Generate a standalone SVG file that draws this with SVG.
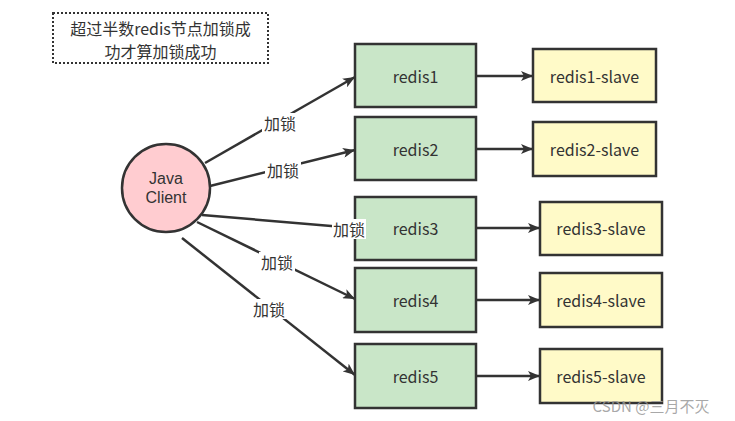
<svg xmlns="http://www.w3.org/2000/svg" width="735" height="421" viewBox="0 0 735 421">
<defs>
<marker id="ah" viewBox="0 0 12 10" refX="12" refY="5" markerWidth="12" markerHeight="10" markerUnits="userSpaceOnUse" orient="auto">
<path d="M0,0 L12,5 L0,10 L3,5 Z" fill="#333"/>
</marker>
<style>
.t{font-family:"Noto Sans CJK SC","Open Sans",sans-serif;font-size:16px;fill:#333;text-anchor:middle;dominant-baseline:central}
.j{font-family:"Liberation Sans",Arial,sans-serif;font-size:16px;fill:#333;text-anchor:middle;dominant-baseline:central}
.m{fill:#c9e6c8;stroke:#333;stroke-width:2.5}
.s{fill:#fffac8;stroke:#333;stroke-width:2.5}
.c{stroke:#333;stroke-width:2.5;fill:none}
.l{font-family:"Noto Sans CJK SC","Open Sans",sans-serif;font-size:16px;fill:#333;text-anchor:middle;dominant-baseline:central}
</style>
</defs>
<rect width="735" height="421" fill="#fff"/>
<g id="note">
<rect x="53" y="13" width="215" height="50" fill="#fff" stroke="#333" stroke-width="2" stroke-dasharray="2,2"/>
<text class="t" x="160.5" y="27.5">超过半数redis节点加锁成</text>
<text class="t" x="160.5" y="50.5">功才算加锁成功</text>
</g>
<g id="connectors">
<line class="c" x1="205" y1="163" x2="355" y2="77" marker-end="url(#ah)"/>
<line class="c" x1="210" y1="186" x2="355" y2="150" marker-end="url(#ah)"/>
<line class="c" x1="202" y1="215" x2="355" y2="228" marker-end="url(#ah)"/>
<line class="c" x1="197" y1="222" x2="355" y2="299" marker-end="url(#ah)"/>
<line class="c" x1="182" y1="238" x2="355" y2="375" marker-end="url(#ah)"/>
<line class="c" x1="476" y1="76" x2="533" y2="76" marker-end="url(#ah)"/>
<line class="c" x1="476" y1="149" x2="533" y2="149" marker-end="url(#ah)"/>
<line class="c" x1="476" y1="228" x2="540" y2="228" marker-end="url(#ah)"/>
<line class="c" x1="476" y1="300" x2="540" y2="300" marker-end="url(#ah)"/>
<line class="c" x1="476" y1="376" x2="540" y2="376" marker-end="url(#ah)"/>
</g>
<g id="client">
<circle cx="166" cy="188" r="44" fill="#ffccd0" stroke="#333" stroke-width="2.5"/>
<text class="j" x="166" y="178">Java</text>
<text class="j" x="166" y="197.5">Client</text>
</g>
<g id="redis1"><rect class="m" x="355" y="44" width="121" height="63"/><text class="t" x="415.5" y="76">redis1</text></g>
<g id="redis2"><rect class="m" x="355" y="117" width="121" height="63"/><text class="t" x="415.5" y="149">redis2</text></g>
<g id="redis3"><rect class="m" x="355" y="197" width="121" height="63"/><text class="t" x="415.5" y="228">redis3</text></g>
<g id="redis4"><rect class="m" x="355" y="268" width="121" height="64"/><text class="t" x="415.5" y="300">redis4</text></g>
<g id="redis5"><rect class="m" x="355" y="344" width="121" height="64"/><text class="t" x="415.5" y="376">redis5</text></g>
<g id="redis1-slave"><rect class="s" x="533" y="49" width="123" height="53"/><text class="t" x="594.5" y="76">redis1-slave</text></g>
<g id="redis2-slave"><rect class="s" x="533" y="122" width="123" height="54"/><text class="t" x="594.5" y="149">redis2-slave</text></g>
<g id="redis3-slave"><rect class="s" x="540" y="202" width="122" height="53"/><text class="t" x="601" y="228">redis3-slave</text></g>
<g id="redis4-slave"><rect class="s" x="540" y="273" width="122" height="54"/><text class="t" x="601" y="300">redis4-slave</text></g>
<g id="redis5-slave"><rect class="s" x="540" y="349" width="122" height="54"/><text class="t" x="601" y="376">redis5-slave</text></g>
<g id="connector-labels">
<rect x="262" y="113" width="36" height="20" fill="#fff"/>
<text class="l" x="280" y="123">加锁</text>
<rect x="265" y="160" width="36" height="20" fill="#fff"/>
<text class="l" x="283" y="170">加锁</text>
<rect x="332" y="219" width="34" height="20" fill="#fff"/>
<text class="l" x="349" y="229">加锁</text>
<rect x="259" y="252" width="36" height="20" fill="#fff"/>
<text class="l" x="277" y="262">加锁</text>
<rect x="251" y="299" width="36" height="20" fill="#fff"/>
<text class="l" x="269" y="309">加锁</text>
</g>
<text x="651" y="405" font-family="'Noto Sans CJK SC','Open Sans',sans-serif" font-size="15" fill="#999" fill-opacity="0.85" text-anchor="middle" dominant-baseline="central">CSDN @三月不灭</text>
</svg>
